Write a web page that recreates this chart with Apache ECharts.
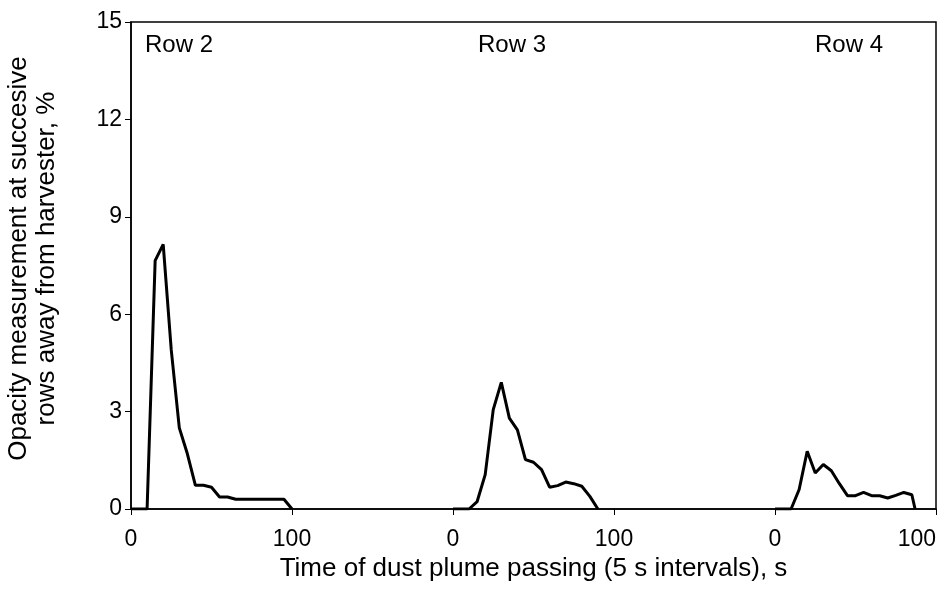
<!DOCTYPE html>
<html>
<head>
<meta charset="utf-8">
<script src="https://cdn.jsdelivr.net/npm/echarts@6/dist/echarts.min.js"></script>
<style>html,body{margin:0;padding:0;background:#fff}#c{width:943px;height:608px}</style>
</head>
<body>
<div id="c"></div>
<script>
// Row 2 (segment offset 0)
var row2Time = [0,5,10,15,20,25,30,35,40,45,50,55,60,65,70,75,80,85,90,95,100];
var row2Vals = [0,0,0,7.65,8.15,4.9,2.5,1.7,0.73,0.73,0.67,0.37,0.37,0.3,0.3,0.3,0.3,0.3,0.3,0.3,0];
// Row 3 (segment offset 200)
var row3Time = [0,5,10,15,20,25,30,35,40,45,50,55,60,65,70,75,80,85,90];
var row3Vals = [0,0,0,0.23,1.06,3.06,3.9,2.8,2.44,1.52,1.44,1.21,0.67,0.72,0.83,0.78,0.7,0.39,0];
// Row 4 (segment offset 400)
var row4Time = [0,5,10,15,20,25,30,35,40,45,50,55,60,65,70,75,80,85,87];
var row4Vals = [0,0,0,0.6,1.78,1.11,1.37,1.18,0.78,0.41,0.41,0.51,0.41,0.41,0.34,0.42,0.51,0.44,0];
var segmentOffsets = [0, 200, 400];
var rowLabels = ['Row 2', 'Row 3', 'Row 4'];
var yTicks = [0,3,6,9,12,15];

function build(times, vals, off){
  return times.map(function(t,i){ return [t+off, vals[i]]; });
}
var font = 'Liberation Sans, Arial, sans-serif';
var chart = echarts.init(document.getElementById('c'));
var lineStyle = {color:'#000', width:3};
var mk = function(name, d){
  return {name:name, type:'line', data:d, symbol:'none', lineStyle:lineStyle, itemStyle:{color:'#000'}, silent:true, animation:false};
};
chart.setOption({
  animation:false,
  backgroundColor:'#fff',
  grid:{left:131, right:7, top:22, bottom:99, containLabel:false, outerBoundsMode:'none',
        show:true, borderColor:'#000', borderWidth:1.5, backgroundColor:'transparent'},
  xAxis:{
    type:'value', min:0, max:500, interval:100,
    name:'Time of dust plume passing (5 s intervals), s',
    nameLocation:'middle', nameGap:41,
    nameTextStyle:{fontFamily:font, fontSize:26, color:'#000'},
    axisLine:{lineStyle:{color:'#000', width:1.5}},
    axisTick:{length:6, lineStyle:{color:'#000'}},
    axisLabel:{fontFamily:font, fontSize:23, color:'#000', margin:19, alignMaxLabel:'right',
               formatter:function(v){return String(v % 200);}},
    splitLine:{show:false}
  },
  yAxis:{
    type:'value', min:yTicks[0], max:yTicks[yTicks.length-1], interval:3,
    name:'Opacity measurement at succesive\nrows away from harvester, %',
    nameLocation:'middle', nameGap:70, nameRotate:90,
    nameTextStyle:{fontFamily:font, fontSize:26, color:'#000', lineHeight:28, padding:[0,0,0,14]},
    axisLine:{lineStyle:{color:'#000', width:1.5}},
    axisTick:{length:6, lineStyle:{color:'#000'}},
    axisLabel:{fontFamily:font, fontSize:23, color:'#000', margin:9},
    splitLine:{show:false}
  },
  graphic:[
    {type:'text', left:145, top:33, style:{text:rowLabels[0], font:'24px '+font, fill:'#000'}},
    {type:'text', left:478, top:33, style:{text:rowLabels[1], font:'24px '+font, fill:'#000'}},
    {type:'text', left:815, top:33, style:{text:rowLabels[2], font:'24px '+font, fill:'#000'}}
  ],
  series:[
    mk(rowLabels[0], build(row2Time,row2Vals,segmentOffsets[0])),
    mk(rowLabels[1], build(row3Time,row3Vals,segmentOffsets[1])),
    mk(rowLabels[2], build(row4Time,row4Vals,segmentOffsets[2]))
  ]
});
</script>
</body>
</html>
